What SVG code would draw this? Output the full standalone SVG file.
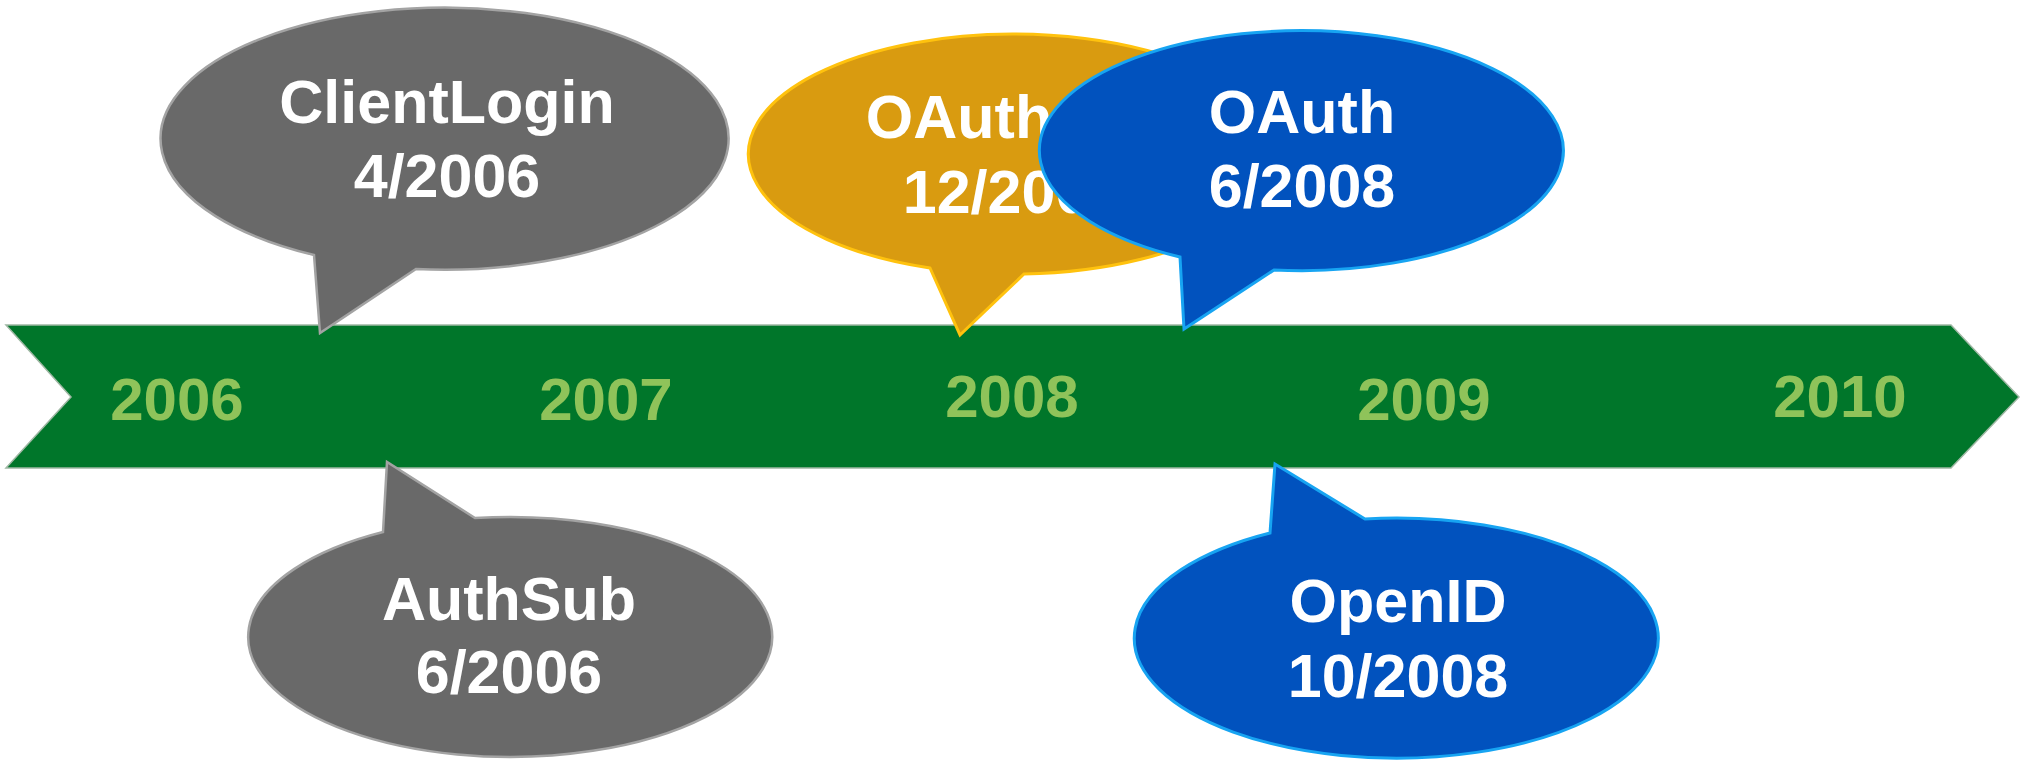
<svg xmlns="http://www.w3.org/2000/svg" width="2032" height="761" viewBox="0 0 2032 761">
  <style>
    .label { font-family: "Liberation Sans", Arial, sans-serif; font-weight: bold; font-size: 61px; fill: #ffffff; text-anchor: middle; }
    .year { font-family: "Liberation Sans", Arial, sans-serif; font-weight: bold; font-size: 60px; fill: #8fc35a; text-anchor: middle; }
    .gray { fill: #696969; stroke: #a3a3a3; stroke-width: 2.5; }
    .gold { fill: #d99b10; stroke: #ffc20e; stroke-width: 3; }
    .blue { fill: #0152be; stroke: #17a4f2; stroke-width: 3; }
  </style>
  <rect width="2032" height="761" fill="#ffffff"/>

  <!-- timeline band -->
  <g id="timeline">
    <path d="M 6 325 L 1951 325 L 2019 397 L 1951 468 L 6 468 L 71 397 Z" fill="#00762a" stroke="#9fb8a4" stroke-width="1.5"/>
    <text class="year" x="177" y="420">2006</text>
    <text class="year" x="606" y="420">2007</text>
    <text class="year" x="1012" y="417">2008</text>
    <text class="year" x="1424" y="420">2009</text>
    <text class="year" x="1840" y="417">2010</text>
  </g>

  <!-- callouts above the band -->
  <g id="clientlogin">
    <path class="gray" d="M 314 255 A 284 131 0 1 1 416 269 L 320 333 Z"/>
    <text class="label" x="447" y="123">ClientLogin</text>
    <text class="label" x="447" y="197">4/2006</text>
  </g>
  <g id="oauth-2007">
    <path class="gold" d="M 930 268 A 265 120 0 1 1 1024 274 L 960 335 Z"/>
    <text class="label" x="959" y="138">OAuth</text>
    <text class="label" x="1013" y="213">12/2007</text>
  </g>
  <g id="oauth-2008">
    <path class="blue" d="M 1180 257 A 262 120 0 1 1 1274 270 L 1184 329 Z"/>
    <text class="label" x="1302" y="133">OAuth</text>
    <text class="label" x="1302" y="207">6/2008</text>
  </g>

  <!-- callouts below the band -->
  <g id="authsub">
    <path class="gray" d="M 475 518 A 262 120 0 1 1 383 532 L 387 462 Z"/>
    <text class="label" x="509" y="620">AuthSub</text>
    <text class="label" x="509" y="693">6/2006</text>
  </g>
  <g id="openid">
    <path class="blue" d="M 1365 519 A 262 120 0 1 1 1270 533 L 1275 464 Z"/>
    <text class="label" x="1398" y="622">OpenID</text>
    <text class="label" x="1398" y="697">10/2008</text>
  </g>

  <g id="connectors"/>
</svg>
